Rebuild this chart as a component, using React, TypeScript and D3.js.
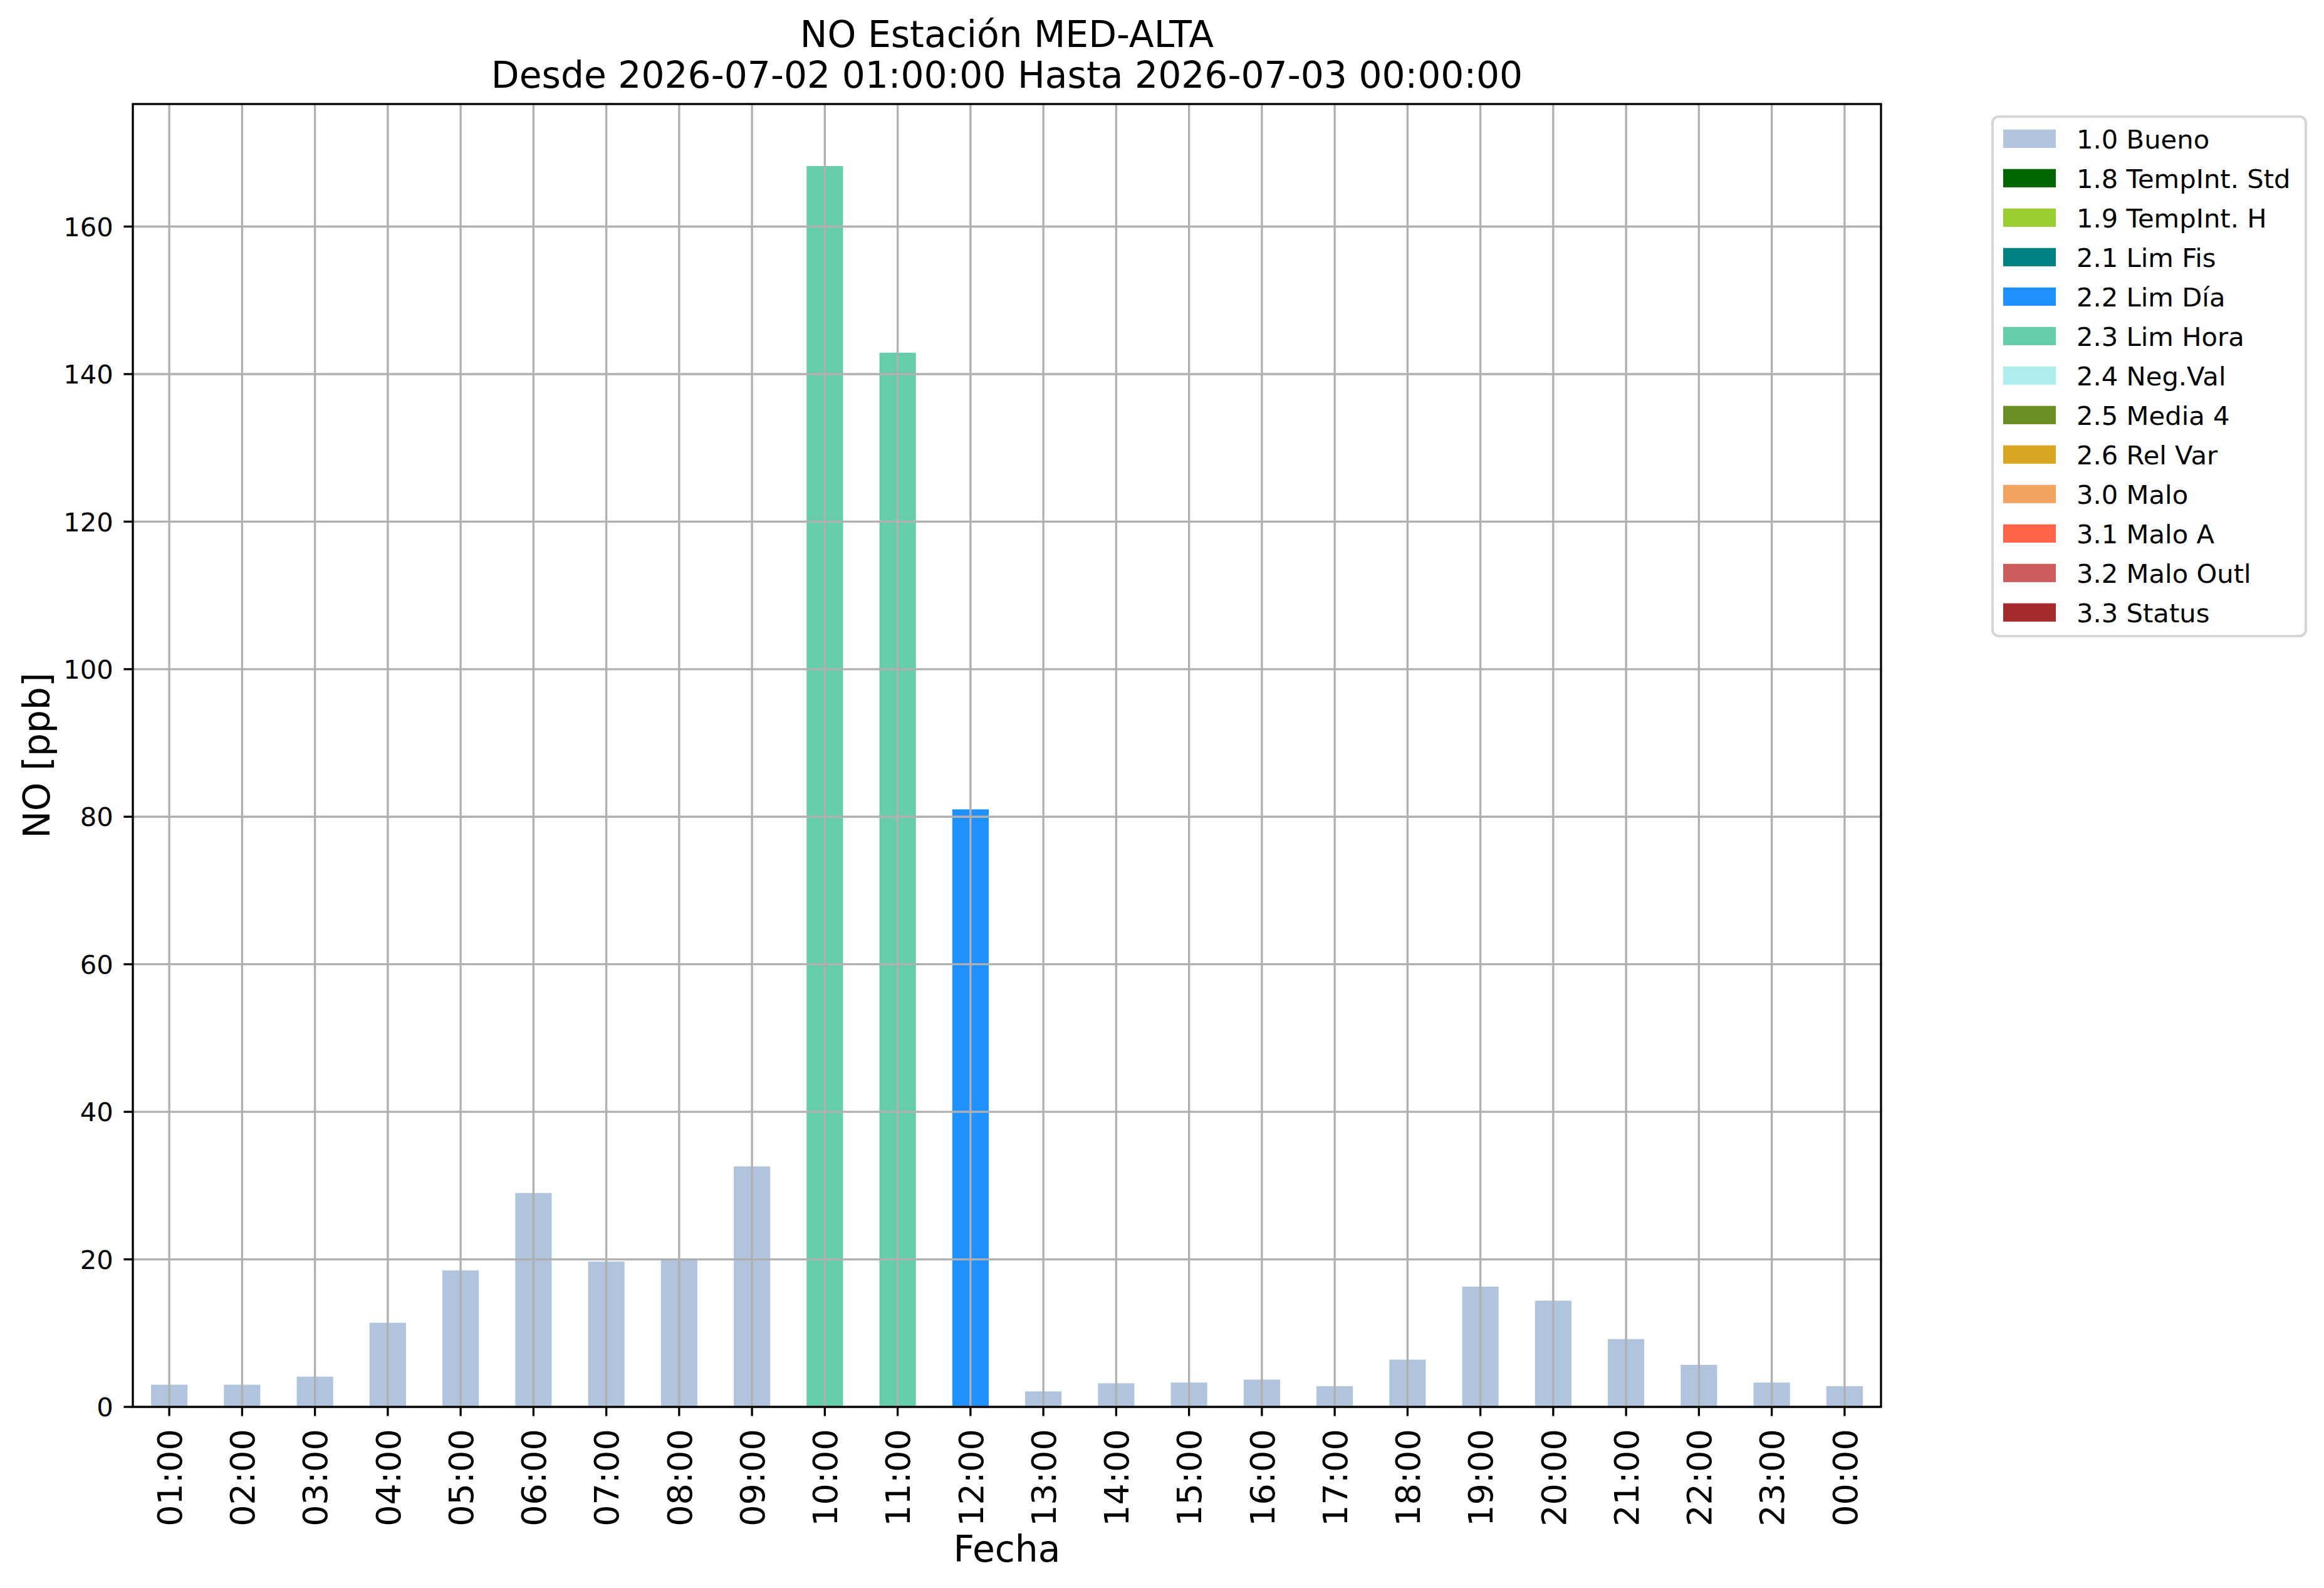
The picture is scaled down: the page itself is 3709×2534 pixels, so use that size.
import React, { useEffect, useRef } from "react";
import * as d3 from "d3";

const hours = [
  "01:00", "02:00", "03:00", "04:00", "05:00", "06:00", "07:00", "08:00",
  "09:00", "10:00", "11:00", "12:00", "13:00", "14:00", "15:00", "16:00",
  "17:00", "18:00", "19:00", "20:00", "21:00", "22:00", "23:00", "00:00",
];

const values = [
  3.0, 3.0, 4.1, 11.4, 18.5, 29.0, 19.7, 20.0, 32.6, 168.2, 142.9, 81.0,
  2.1, 3.2, 3.3, 3.7, 2.8, 6.4, 16.3, 14.4, 9.2, 5.7, 3.3, 2.8,
];

const flags = [
  "1.0 Bueno", "1.0 Bueno", "1.0 Bueno", "1.0 Bueno", "1.0 Bueno", "1.0 Bueno",
  "1.0 Bueno", "1.0 Bueno", "1.0 Bueno", "2.3 Lim Hora", "2.3 Lim Hora", "2.2 Lim Día",
  "1.0 Bueno", "1.0 Bueno", "1.0 Bueno", "1.0 Bueno", "1.0 Bueno", "1.0 Bueno",
  "1.0 Bueno", "1.0 Bueno", "1.0 Bueno", "1.0 Bueno", "1.0 Bueno", "1.0 Bueno",
];

const legendLabels = [
  "1.0 Bueno", "1.8 TempInt. Std", "1.9 TempInt. H", "2.1 Lim Fis", "2.2 Lim Día",
  "2.3 Lim Hora", "2.4 Neg.Val", "2.5 Media 4", "2.6 Rel Var", "3.0 Malo",
  "3.1 Malo A", "3.2 Malo Outl", "3.3 Status",
];

const legendColors = [
  "#b0c4de", "#006400", "#9acd32", "#008080", "#1e90ff", "#66cdaa", "#afeeee",
  "#6b8e23", "#daa520", "#f4a460", "#ff6347", "#cd5c5c", "#a52a2a",
];

const titleLines = [
  "NO Estación MED-ALTA",
  "Desde 2026-07-02 01:00:00 Hasta 2026-07-03 00:00:00",
];

const App: React.FC = () => {
  const svgRef = useRef<SVGSVGElement | null>(null);

  useEffect(() => {
    if (!svgRef.current) return;
    document.body.style.margin = "0";

    const width = 3709;
    const height = 2534;
    const left = 212;
    const right = 3002;
    const top = 166;
    const bottom = 2245;
    const font = "DejaVu Sans";
    const tickFs = 41.7;
    const xTickFs = 54;
    const labelFs = 58.3;
    const lw = 3.33;
    const tickLen = 14.6;

    const svg = d3.select(svgRef.current);
    svg.selectAll("*").remove();
    svg.attr("width", width).attr("height", height).style("background", "#fff");

    const x = d3.scaleBand<string>().domain(hours).range([left, right])
      .paddingInner(0.5).paddingOuter(0.25);
    const y = d3.scaleLinear()
      .domain([0, d3.max(values)! * 1.05])
      .range([bottom, top]);
    const color = d3.scaleOrdinal<string, string>().domain(legendLabels).range(legendColors);

    // bars
    svg.append("g")
      .selectAll("rect")
      .data(values)
      .enter()
      .append("rect")
      .attr("x", (_, i) => x(hours[i])!)
      .attr("y", (d) => y(d))
      .attr("width", x.bandwidth())
      .attr("height", (d) => bottom - y(d))
      .attr("fill", (_, i) => color(flags[i]));

    const yTicks = y.ticks(8);

    // grid (drawn over the bars)
    const grid = svg.append("g").attr("stroke", "#b0b0b0").attr("stroke-width", lw);
    grid.selectAll("line.v")
      .data(hours)
      .enter()
      .append("line")
      .attr("class", "v")
      .attr("x1", (d) => x(d)! + x.bandwidth() / 2)
      .attr("x2", (d) => x(d)! + x.bandwidth() / 2)
      .attr("y1", top)
      .attr("y2", bottom);
    grid.selectAll("line.h")
      .data(yTicks)
      .enter()
      .append("line")
      .attr("class", "h")
      .attr("x1", left)
      .attr("x2", right)
      .attr("y1", (d) => y(d))
      .attr("y2", (d) => y(d));

    // spines
    svg.append("rect")
      .attr("x", left)
      .attr("y", top)
      .attr("width", right - left)
      .attr("height", bottom - top)
      .attr("fill", "none")
      .attr("stroke", "#000")
      .attr("stroke-width", lw);

    // y ticks
    const yAxis = svg.append("g");
    yAxis.selectAll("line")
      .data(yTicks)
      .enter()
      .append("line")
      .attr("x1", left - tickLen)
      .attr("x2", left)
      .attr("y1", (d) => y(d))
      .attr("y2", (d) => y(d))
      .attr("stroke", "#000")
      .attr("stroke-width", lw);
    yAxis.selectAll("text")
      .data(yTicks)
      .enter()
      .append("text")
      .attr("x", left - 2 * tickLen - 2)
      .attr("y", (d) => y(d) + 0.3645 * tickFs)
      .attr("text-anchor", "end")
      .attr("font-family", font)
      .attr("font-size", tickFs)
      .text((d) => String(d));

    // x ticks
    const xAxis = svg.append("g");
    xAxis.selectAll("line")
      .data(hours)
      .enter()
      .append("line")
      .attr("x1", (d) => x(d)! + x.bandwidth() / 2)
      .attr("x2", (d) => x(d)! + x.bandwidth() / 2)
      .attr("y1", bottom)
      .attr("y2", bottom + tickLen)
      .attr("stroke", "#000")
      .attr("stroke-width", lw);
    xAxis.selectAll("text")
      .data(hours)
      .enter()
      .append("text")
      .attr("transform", (d) => `translate(${x(d)! + x.bandwidth() / 2 + 0.3645 * xTickFs}, ${bottom + 2 * tickLen + 6}) rotate(-90)`)
      .attr("text-anchor", "end")
      .attr("font-family", font)
      .attr("font-size", xTickFs)
      .text((d) => d);

    // axis labels
    svg.append("text")
      .attr("x", (left + right) / 2)
      .attr("y", 2492)
      .attr("text-anchor", "middle")
      .attr("font-family", font)
      .attr("font-size", labelFs)
      .text("Fecha");
    svg.append("text")
      .attr("transform", `translate(${58 + 0.3645 * labelFs}, ${(top + bottom) / 2}) rotate(-90)`)
      .attr("text-anchor", "middle")
      .attr("font-family", font)
      .attr("font-size", labelFs)
      .text("NO [ppb]");

    // title
    svg.append("g")
      .selectAll("text")
      .data(titleLines)
      .enter()
      .append("text")
      .attr("x", (left + right) / 2)
      .attr("y", (_, i) => 75 + i * 65)
      .attr("text-anchor", "middle")
      .attr("font-family", font)
      .attr("font-size", labelFs)
      .text((d) => d);

    // legend
    const lg = svg.append("g");
    lg.append("rect")
      .attr("x", 3180)
      .attr("y", 186)
      .attr("width", 500)
      .attr("height", 829)
      .attr("rx", 10)
      .attr("fill", "#fff")
      .attr("fill-opacity", 0.8)
      .attr("stroke", "#cccccc")
      .attr("stroke-opacity", 0.8)
      .attr("stroke-width", 4.17);
    const rowH = 63;
    const row0 = 221.3;
    const items = lg.selectAll("g.item")
      .data(legendLabels)
      .enter()
      .append("g")
      .attr("class", "item")
      .attr("transform", (_, i) => `translate(0, ${row0 + i * rowH})`);
    items.append("rect")
      .attr("x", 3197)
      .attr("y", -14.6)
      .attr("width", 84)
      .attr("height", 29.2)
      .attr("fill", (d) => color(d));
    items.append("text")
      .attr("x", 3314)
      .attr("y", 0.3645 * tickFs)
      .attr("font-family", font)
      .attr("font-size", tickFs)
      .text((d) => d);
  }, []);

  return <svg ref={svgRef}></svg>;
};

export default App;
